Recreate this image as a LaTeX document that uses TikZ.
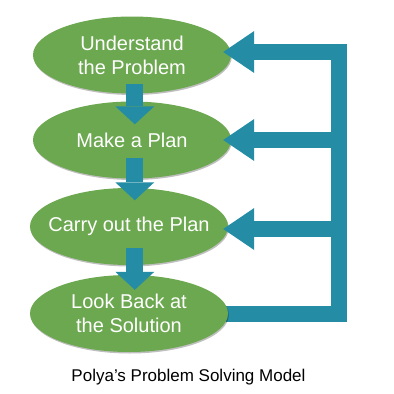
\documentclass[tikz,border=0pt]{standalone}
\usepackage{fontspec}
\setmainfont{Liberation Sans}
\usetikzlibrary{shapes.geometric,arrows.meta,calc,shadows,backgrounds}
\definecolor{stepgreen}{RGB}{108,168,80}
\definecolor{loopblue}{RGB}{36,140,164}
\begin{document}
\begin{tikzpicture}[x=1pt,y=1pt,
  stepnode/.style={ellipse, fill=stepgreen, minimum width=198pt, minimum height=77pt,
    inner xsep=-50pt, inner ysep=0pt,
    text=white, align=center, font=\fontsize{20}{24}\selectfont,
    drop shadow={shadow xshift=0.8pt, shadow yshift=-1.5pt, opacity=0.25, fill=black}},
  downarrow/.style={draw=loopblue, line width=17pt,
    -{Triangle[length=18pt,width=39pt,line width=0pt]}},
  backarrow/.style={draw=loopblue, line width=16pt,
    -{Triangle[length=31pt,width=42pt,line width=0pt]}},
  loopbar/.style={draw=loopblue, line width=16pt, line join=miter}
]
\useasboundingbox (0,0) rectangle (394,-394);
\node[stepnode] (e1) at (132,-55) {Understand\\the Problem};
\node[stepnode] (e2) at (132,-140) {Make a Plan};
\node[stepnode] (e3) at (129,-226.5) {Carry out the Plan};
\node[stepnode] (e4) at (129,-313.5) {Look Back at\\the Solution};
\node[font=\fontsize{17}{20}\selectfont, anchor=base] (cap) at (188.5,-381.5) {Polya’s Problem Solving Model};

% down arrows
\draw[downarrow] ($(e1.south)+(2.8,10)$) -- ($(e2.north)+(2.8,-23)$);
\draw[downarrow] ($(e2.south)+(2.8,21)$) -- ($(e3.north)+(5.8,-12.5)$);
\draw[downarrow] ($(e3.south)+(5.8,17)$) -- ($(e4.north)+(5.8,-15)$);

% feedback loop
\coordinate (c1) at (338.5,-52);
\coordinate (c2) at (338.5,-140);
\coordinate (c3) at (338.5,-229);
\coordinate (c4) at (338.5,-313.5);
\begin{scope}[on background layer]
\draw[loopbar] ($(e4.center)+(60,0)$) -- (c4) -- ($(c1)+(0,8)$);
\end{scope}
\draw[backarrow] ($(c1)+(7.5,0)$) -- ($(e1.east)+(-8,3)$);
\draw[backarrow] (c2) -- ($(e2.east)+(-8,0)$);
\draw[backarrow] (c3) -- ($(e3.east)+(-5,-2.5)$);
\end{tikzpicture}
\end{document}
